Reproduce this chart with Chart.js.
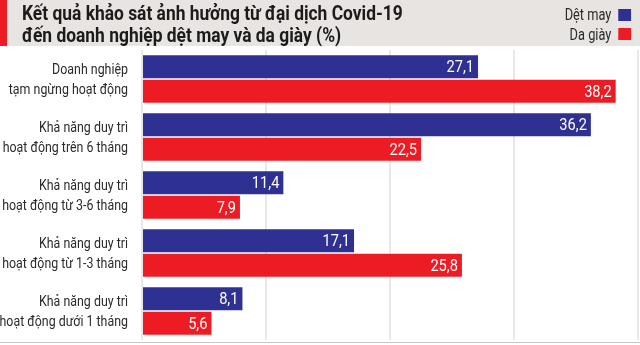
<!DOCTYPE html>
<html lang="vi">
<head>
<meta charset="utf-8">
<script src="https://cdn.jsdelivr.net/npm/chart.js@4"></script>
<style>
  html, body { margin: 0; padding: 0; background: #ffffff; }
  #wrap { position: relative; width: 640px; height: 345px; overflow: hidden; background: #ffffff; }
  #chart { position: absolute; left: 0; top: 0; }
  #header { position: absolute; left: 0; top: 0; width: 640px; height: 46px; background: #e7e4e1; }
  #accent { position: absolute; left: 0; top: 0; width: 7px; height: 46px; background: #ed1c24; }
  #title { position: absolute; left: 22px; top: 2px; font-family: Roboto, "Noto Sans", sans-serif;
           font-weight: bold; font-size: 20px; line-height: 22px; color: #1c1a1a; white-space: nowrap;
           transform-origin: 0 0; }
  #legend { position: absolute; right: 9px; top: 5px; font-family: Roboto, "Noto Sans", sans-serif;
            font-size: 16px; color: #2b2b2b; transform-origin: 100% 0; }
  .item { display: flex; justify-content: flex-end; align-items: center; height: 19.5px; white-space: nowrap; }
  .swatch { display: inline-block; width: 16px; height: 12px; margin-left: 9px; }
  #baseline { position: absolute; left: 0; top: 342px; width: 640px; height: 1px; background: #c6c6c6; }
</style>
</head>
<body>
<div id="wrap">
  <canvas id="chart" width="640" height="345"></canvas>
  <div id="header"><div id="accent"></div>
    <div id="title">Kết quả khảo sát ảnh hưởng từ đại dịch Covid-19<br>đến doanh nghiệp dệt may và da giày (%)</div>
  </div>
  <div id="legend"></div>
  <div id="baseline"></div>
</div>
<script>
// Survey categories (two-line labels)
const categories = [
  ["Doanh nghiệp", "tạm ngừng hoạt động"],
  ["Khả năng duy trì", "hoạt động trên 6 tháng"],
  ["Khả năng duy trì", "hoạt động từ 3-6 tháng"],
  ["Khả năng duy trì", "hoạt động từ 1-3 tháng"],
  ["Khả năng duy trì", "hoạt động dưới 1 tháng"]
];
const seriesNames = ["Dệt may", "Da giày"];
const detMay = [27.1, 36.2, 11.4, 17.1, 8.1];
const daGiay = [38.2, 22.5, 7.9, 25.8, 5.6];
const xTicks = [0, 10, 20, 30, 40];

const BLUE = "#2e3192";
const RED = "#ed1c24";
const FONT = 'Roboto, "Noto Sans", sans-serif';
const NARROW = 0.8;          // horizontal squeeze for the condensed look

// Draw text squeezed horizontally around its anchor point
function narrowText(ctx, txt, x, y, squeeze) {
  ctx.save();
  ctx.translate(x, y);
  ctx.scale(squeeze, 1);
  ctx.fillText(txt, 0, 0);
  ctx.restore();
}

// Two-line category labels to the left of the bars
const categoryLabels = {
  id: "categoryLabels",
  afterDraw(chart) {
    const ctx = chart.ctx;
    const yScale = chart.scales.y;
    ctx.save();
    ctx.fillStyle = "#2b2b2b";
    ctx.font = "15.5px " + FONT;
    ctx.textAlign = "right";
    ctx.textBaseline = "middle";
    const x = chart.chartArea.left - 14;
    chart.data.labels.forEach((lines, i) => {
      const yc = yScale.getPixelForValue(i) + 1;
      const step = 20;
      lines.forEach((line, k) => {
        narrowText(ctx, line, x, yc + (k - (lines.length - 1) / 2) * step, NARROW);
      });
    });
    ctx.restore();
  }
};

// Value labels written inside the end of each bar
const valueLabels = {
  id: "valueLabels",
  afterDatasetsDraw(chart) {
    const ctx = chart.ctx;
    ctx.save();
    ctx.fillStyle = "#ffffff";
    ctx.font = "17px " + FONT;
    ctx.textAlign = "right";
    ctx.textBaseline = "middle";
    chart.data.datasets.forEach((ds, i) => {
      chart.getDatasetMeta(i).data.forEach((bar, j) => {
        const txt = ds.data[j].toFixed(1).replace(".", ",");
        narrowText(ctx, txt, bar.x - 4, bar.y + 1, 0.86);
      });
    });
    ctx.restore();
  }
};

const chart = new Chart(document.getElementById("chart"), {
  type: "bar",
  data: {
    labels: categories,
    datasets: [
      { label: seriesNames[0], data: detMay, backgroundColor: BLUE },
      { label: seriesNames[1], data: daGiay, backgroundColor: RED }
    ]
  },
  options: {
    indexAxis: "y",
    responsive: false,
    animation: false,
    devicePixelRatio: 1,
    layout: { padding: { top: 50, bottom: 5, right: 2, left: 0 } },
    categoryPercentage: 0.845,
    barPercentage: 0.94,
    plugins: { legend: { display: false }, tooltip: { enabled: false } },
    scales: {
      x: {
        min: 0, max: 40,
        afterBuildTicks(scale) { scale.ticks = xTicks.map(v => ({ value: v })); },
        afterFit(scale) { scale.height = 0; },
        ticks: { display: false },
        grid: { color: "#e8e8e8", lineWidth: 2, drawTicks: false },
        border: { display: false }
      },
      y: {
        afterFit(scale) { scale.width = 142; },
        ticks: { display: false },
        grid: { display: false, drawTicks: false },
        border: { display: false }
      }
    }
  },
  plugins: [valueLabels, categoryLabels]
});

// Legend built from the chart's datasets
const legend = document.getElementById("legend");
chart.data.datasets.forEach(ds => {
  const row = document.createElement("div");
  row.className = "item";
  const t = document.createElement("span");
  t.textContent = ds.label;
  const sw = document.createElement("span");
  sw.className = "swatch";
  sw.style.background = ds.backgroundColor;
  row.appendChild(t);
  row.appendChild(sw);
  legend.appendChild(row);
});
legend.style.transform = "scaleX(" + NARROW + ")";
document.getElementById("title").style.transform = "scaleX(0.87)";
</script>
</body>
</html>
